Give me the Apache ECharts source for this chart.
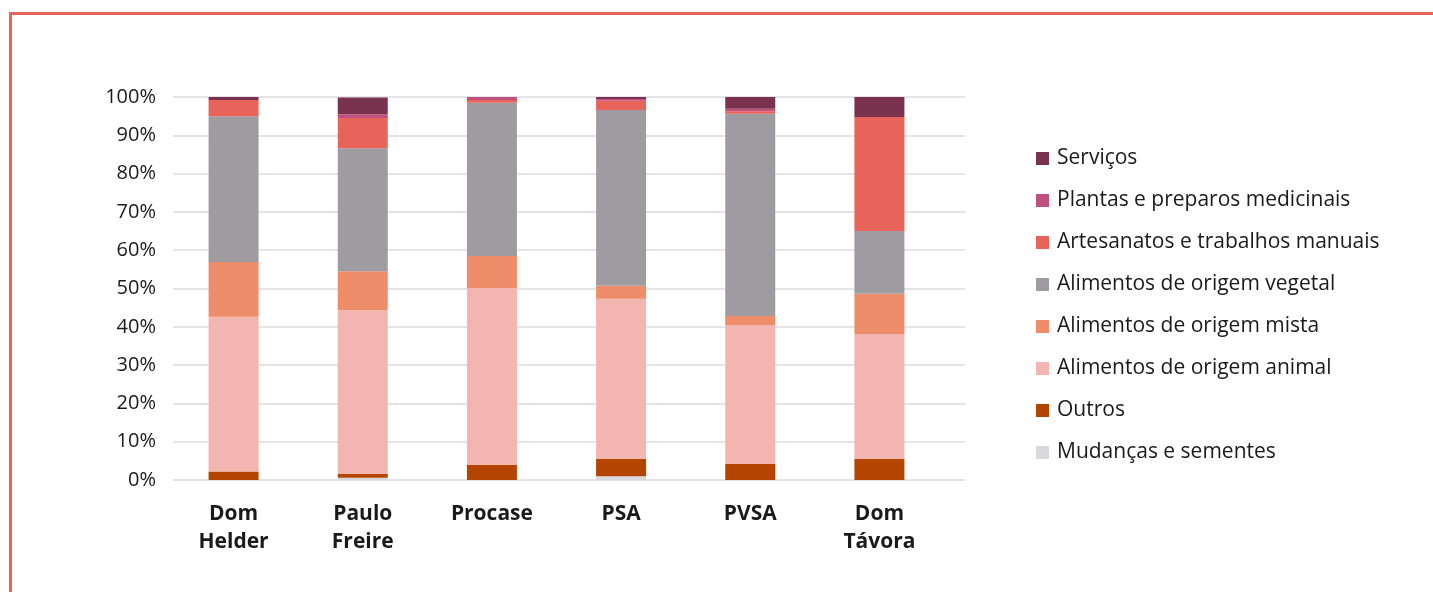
<!DOCTYPE html>
<html>
<head>
<meta charset="utf-8">
<script src="https://cdn.jsdelivr.net/npm/echarts@6/dist/echarts.min.js"></script>
<style>
html,body{margin:0;padding:0;background:#fff;}
#chart{width:1433px;height:592px;}
</style>
</head>
<body>
<div id="chart"></div>
<script>
const categories = ['Dom Helder', 'Paulo Freire', 'Procase', 'PSA', 'PVSA', 'Dom Távora'];
const yTicks = [0, 10, 20, 30, 40, 50, 60, 70, 80, 90, 100];

const mudancas     = [0.0, 0.6, 0.0, 1.0, 0.0, 0.0];
const outros       = [2.2, 1.0, 4.0, 4.5, 4.2, 5.5];
const animal       = [40.4, 42.7, 46.1, 41.8, 36.3, 32.6];
const mista        = [14.3, 10.2, 8.4, 3.4, 2.3, 10.5];
const vegetal      = [38.1, 32.1, 40.0, 45.9, 52.8, 16.4];
const artesanatos  = [4.2, 7.9, 0.7, 2.4, 0.7, 29.8];
const plantas      = [0.0, 1.0, 0.8, 0.5, 0.6, 0.0];
const servicos     = [0.8, 4.4, 0.0, 0.5, 3.1, 5.2];

const seriesDefs = [
  { name: 'Mudanças e sementes', data: mudancas, color: '#d9d9dd' },
  { name: 'Outros', data: outros, color: '#b44500' },
  { name: 'Alimentos de origem animal', data: animal, color: '#f3b5b0' },
  { name: 'Alimentos de origem mista', data: mista, color: '#ee8d69' },
  { name: 'Alimentos de origem vegetal', data: vegetal, color: '#9e9ca0' },
  { name: 'Artesanatos e trabalhos manuais', data: artesanatos, color: '#e8635a' },
  { name: 'Plantas e preparos medicinais', data: plantas, color: '#c0507e' },
  { name: 'Serviços', data: servicos, color: '#7a334e' }
];

const FONT = '"Open Sans", "Noto Sans", sans-serif';
const chart = echarts.init(document.getElementById('chart'), null, { renderer: 'canvas' });

const option = {
  backgroundColor: '#ffffff',
  animation: false,
  graphic: [
    { type: 'line', shape: { x1: 10, y1: 13.5, x2: 1433, y2: 13.5 }, style: { stroke: '#e8635a', lineWidth: 3 } },
    { type: 'line', shape: { x1: 10.5, y1: 12, x2: 10.5, y2: 592 }, style: { stroke: '#e8635a', lineWidth: 3 } }
  ],
  legend: {
    orient: 'vertical',
    left: 1031,
    top: 143,
    itemGap: 21,
    itemWidth: 13,
    itemHeight: 13,
    icon: 'rect',
    data: seriesDefs.map(s => s.name).reverse(),
    textStyle: { fontFamily: FONT, fontSize: 21, color: '#1a1a1a', lineHeight: 21, padding: [0, 0, 0, 3] }
  },
  grid: [
    { left: 169, top: 97, width: 775, height: 383 },
    { left: 173, top: 97, width: 792, height: 383 }
  ],
  xAxis: [
    {
      type: 'category',
      gridIndex: 0,
      data: categories,
      axisLine: { show: false },
      axisTick: { show: false },
      axisLabel: {
        interval: 0,
        margin: 20,
        fontFamily: FONT,
        fontSize: 21,
        fontWeight: 'bold',
        color: '#1a1a1a',
        lineHeight: 28,
        formatter: v => v.replace(' ', '\n')
      }
    },
    { type: 'value', gridIndex: 1, min: 0, max: 1, show: false }
  ],
  yAxis: [
    { type: 'value', gridIndex: 0, min: 0, max: 100, interval: 10, show: false },
    {
      type: 'value',
      gridIndex: 1,
      min: yTicks[0],
      max: yTicks[yTicks.length - 1],
      interval: 10,
      axisLine: { show: false },
      axisTick: { show: false },
      splitLine: { lineStyle: { color: '#e5e4e9', width: 2 } },
      axisLabel: {
        margin: 17,
        fontFamily: FONT,
        fontSize: 20,
        color: '#1a1a1a',
        formatter: '{value}%'
      }
    }
  ],
  series: seriesDefs.map(s => ({
    name: s.name,
    type: 'bar',
    stack: 'total',
    xAxisIndex: 0,
    yAxisIndex: 0,
    barWidth: 50,
    data: s.data,
    itemStyle: { color: s.color },
    z: 3
  }))
};
chart.setOption(option);
</script>
</body>
</html>
